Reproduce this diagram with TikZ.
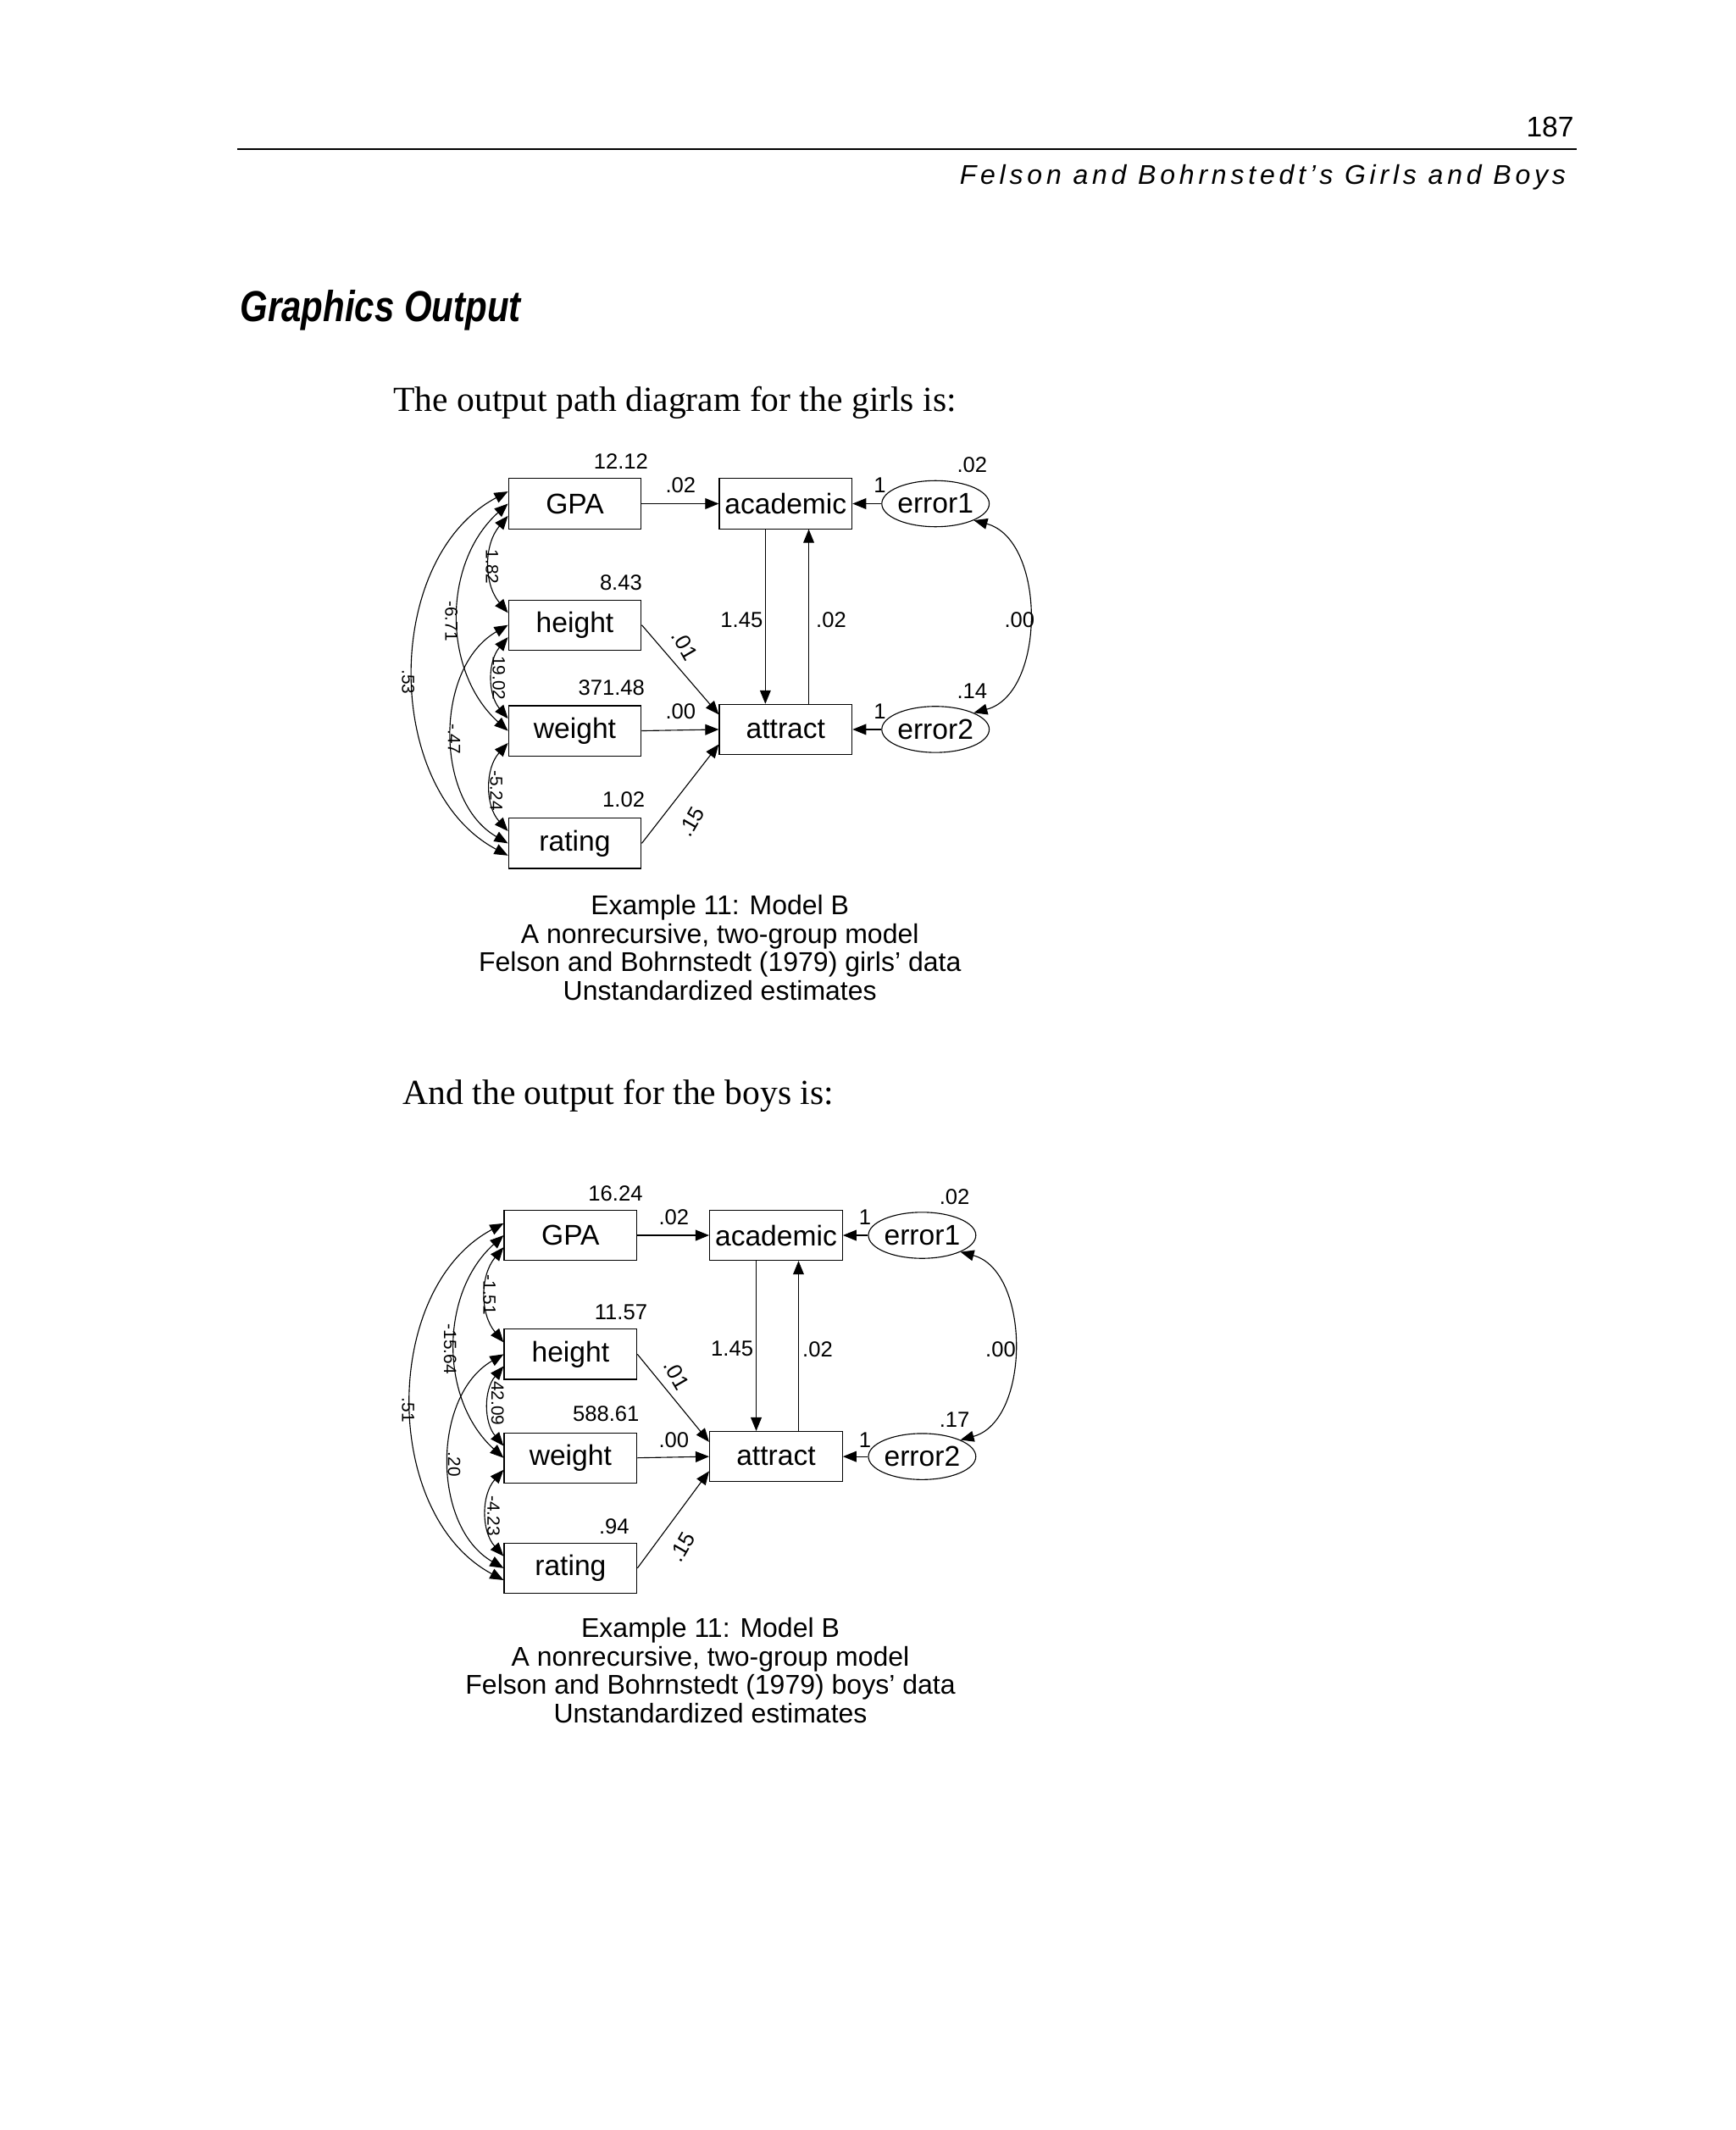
\documentclass[tikz,border=0pt]{standalone}
\usepackage{fontspec}
\setmainfont{Liberation Serif}
\setsansfont{Liberation Sans}
\usetikzlibrary{shapes.geometric,arrows.meta}
\tikzset{
  box/.style={draw,line width=0.7pt,minimum width=98pt,minimum height=37pt,inner sep=0pt,font=\sffamily\fontsize{21}{21}\selectfont},
  err/.style={draw,ellipse,line width=0.7pt,minimum width=62pt,minimum height=34pt,inner sep=0pt,font=\sffamily\fontsize{21}{21}\selectfont},
  arr/.style={line width=0.7pt,-{Triangle[length=10pt,width=8pt]}},
  cov/.style={line width=0.7pt,{Triangle[length=10pt,width=8pt]}-{Triangle[length=10pt,width=8pt]}},
  lab/.style={font=\sffamily\fontsize{16}{16}\selectfont,inner sep=0pt},
  vlab/.style={font=\sffamily\fontsize{13}{13}\selectfont,inner sep=0pt,rotate=-90},
  captxt/.style={font=\sffamily\fontsize{20}{21}\selectfont,align=center,inner sep=0pt}
}
\newcommand\semdiag[1]{%
  \node[box] (#1G) at (49,19.5) {GPA};
  \node[box] (#1H) at (49,109) {height};
  \node[box] (#1W) at (49,187) {weight};
  \node[box] (#1R) at (49,270) {rating};
  \node[box] (#1A) at (204.5,19.5) {academic};
  \node[box] (#1T) at (204.5,186) {attract};
  \node[err] (#1E) at (315,19.5) {error1};
  \node[err] (#1F) at (315,186) {error2};
  \draw[arr] (#1G.east) -- (#1A.west);
  \draw[arr] (#1E.west) -- (#1A.east);
  \draw[arr] (#1F.west) -- (#1T.east);
  \draw[arr] (#1W.east) -- (#1T.west);
  \draw[arr] (#1H.east) -- ([yshift=11pt]#1T.west);
  \draw[arr] (#1R.east) -- ([yshift=-11pt]#1T.west);
  \draw[arr] ([xshift=-15pt]#1A.south) -- ([xshift=-15pt]#1T.north);
  \draw[arr] ([xshift=17pt]#1T.north) -- ([xshift=17pt]#1A.south);
  \draw[cov] (#1E.south east) to[bend left=75] (#1F.north east);
  \draw[cov] ([yshift=-9pt]#1G.west) to[bend right=40] ([yshift=9pt]#1H.west);
  \draw[cov] ([yshift=0pt]#1G.west) to[bend right=48] ([yshift=0pt]#1W.west);
  \draw[cov] ([yshift=9pt]#1G.west) to[bend right=62] ([yshift=-9pt]#1R.west);
  \draw[cov] ([yshift=-9pt]#1H.west) to[bend right=40] ([yshift=9pt]#1W.west);
  \draw[cov] ([yshift=0pt]#1H.west) to[bend right=60] ([yshift=0pt]#1R.west);
  \draw[cov] ([yshift=-9pt]#1W.west) to[bend right=42] ([yshift=9pt]#1R.west);
}
\begin{document}
\begin{tikzpicture}[x=1pt,y=-1pt]
\fill[white] (0,0) rectangle (1280,1571);
\useasboundingbox (0,0) rectangle (1280,1571);
% header
\node[anchor=east,font=\sffamily\fontsize{21}{21}\selectfont,inner sep=0pt] (pg) at (1161,94) {187};
\draw[line width=0.8pt] (175,110) -- (1163,110);
\node[anchor=east,font=\sffamily\itshape\fontsize{20}{20}\selectfont\addfontfeatures{LetterSpace=15},inner sep=0pt] (hd) at (1155,131) {Felson and Bohrnstedt’s Girls and Boys};
\node[anchor=west,inner sep=0pt] (title) at (177,229) {\scalebox{0.82}[1]{\sffamily\bfseries\itshape\fontsize{32}{32}\selectfont Graphics Output}};
\node[anchor=west,inner sep=0pt,font=\fontsize{26}{26}\selectfont] (t1) at (290,297) {The output path diagram for the girls is:};
\node[anchor=west,inner sep=0pt,font=\fontsize{26}{26}\selectfont] (t2) at (297,808) {And the output for the boys is:};
% girls
\begin{scope}[shift={(375,352)}]
\semdiag{g}
\end{scope}
\node[lab] (ga) at (458,340) {12.12};
\node[lab] (gb) at (502,358) {.02};
\node[lab] (gc) at (649,358) {1};
\node[lab] (gd) at (717,343) {.02};
\node[lab] (ge) at (458,430) {8.43};
\node[lab] (gf) at (547,457) {1.45};
\node[lab] (gg) at (613,457) {.02};
\node[lab] (gh) at (752,457) {.00};
\node[lab,rotate=-60] (gi) at (505,476) {.01};
\node[lab] (gj) at (451,507) {371.48};
\node[lab] (gk) at (502,525) {.00};
\node[lab] (gl) at (649,525) {1};
\node[lab] (gm) at (717,510) {.14};
\node[lab] (gn) at (460,590) {1.02};
\node[lab,rotate=60] (go) at (510,606) {.15};
\node[vlab] (gp) at (363,418) {1.82};
\node[vlab] (gq) at (333,458) {-6.71};
\node[vlab] (gr) at (301,503) {.53};
\node[vlab] (gs) at (368,500) {19.02};
\node[vlab] (gt) at (335,545) {-.47};
\node[vlab] (gu) at (366,583) {-5.24};
\node[captxt] (gcap) at (531,699) {Example 11: Model B\\A nonrecursive, two-group model\\Felson and Bohrnstedt (1979) girls\char"27\ data\\Unstandardized estimates};
% boys
\begin{scope}[shift={(373,892)},xscale=0.975,yscale=0.98]
\semdiag{b}
\end{scope}
\node[lab] (ba) at (454,880) {16.24};
\node[lab] (bb) at (497,898) {.02};
\node[lab] (bc) at (638,898) {1};
\node[lab] (bd) at (704,883) {.02};
\node[lab] (be) at (458,968) {11.57};
\node[lab] (bf) at (540,995) {1.45};
\node[lab] (bg) at (603,995) {.02};
\node[lab] (bh) at (738,995) {.00};
\node[lab,rotate=-60] (bi) at (499,1014) {.01};
\node[lab] (bj) at (447,1043) {588.61};
\node[lab] (bk) at (497,1062) {.00};
\node[lab] (bl) at (638,1062) {1};
\node[lab] (bm) at (704,1047) {.17};
\node[lab] (bn) at (453,1126) {.94};
\node[lab,rotate=60] (bo) at (503,1141) {.15};
\node[vlab] (bp) at (361,955) {-1.51};
\node[vlab] (bq) at (332,995) {-15.64};
\node[vlab] (br) at (301,1040) {.51};
\node[vlab] (bs) at (367,1035) {42.09};
\node[vlab] (bt) at (335,1080) {.20};
\node[vlab] (bu) at (364,1118) {-4.23};
\node[captxt] (bcap) at (524,1232) {Example 11: Model B\\A nonrecursive, two-group model\\Felson and Bohrnstedt (1979) boys\char"27\ data\\Unstandardized estimates};
\end{tikzpicture}
\end{document}
